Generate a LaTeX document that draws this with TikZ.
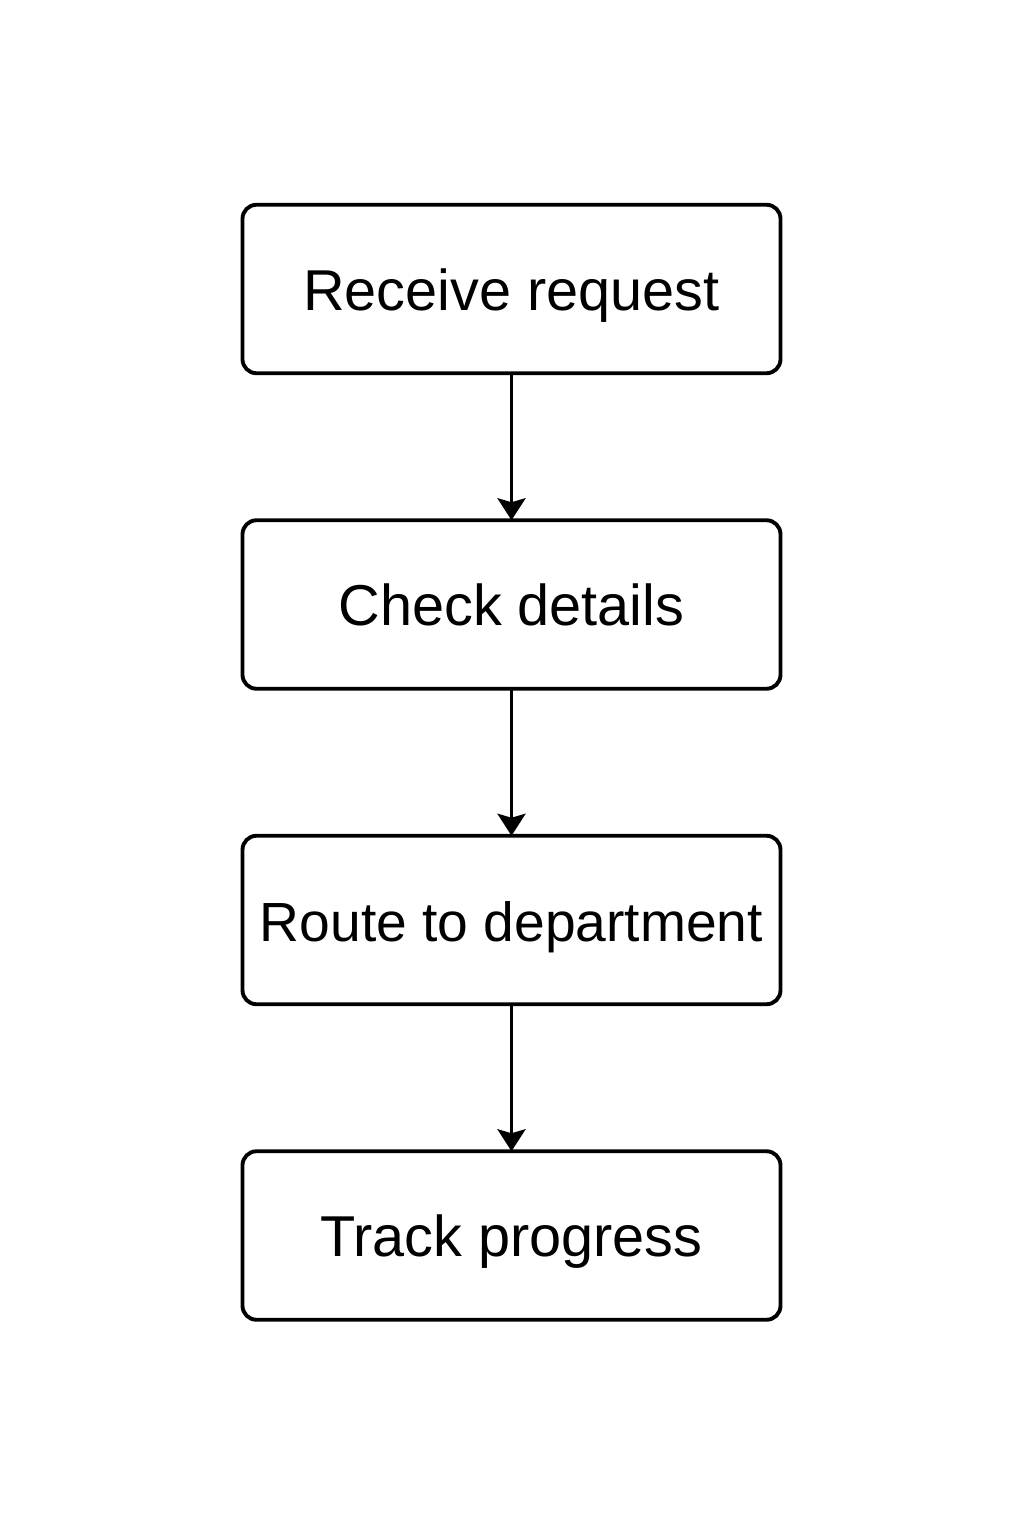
\documentclass[tikz,border=0pt]{standalone}
\usepackage{fontspec}
\setmainfont{Liberation Sans}
\usetikzlibrary{positioning,arrows.meta}

\tikzset{stepbox/.style = {draw, line width = 2.2pt, rounded corners = .28cm,
    minimum width = 10.76cm, minimum height = 3.37cm, inner sep = 1pt, outer sep = 0pt,
    text height = 24pt, text depth = 0pt, font = \fontsize{32.8}{39}\selectfont},
  flow/.style = {line width = 2pt, -{Stealth[length = .44cm, width = .56cm, inset = .08cm]}}}

\begin{document}
\begin{tikzpicture}[node distance = 2.94cm]
\useasboundingbox (0,0) rectangle (20.48,-30.72);
\node[stepbox] (receive) at (10.23,-5.78) {Receive request};
\node[stepbox, below = of receive] (check) {Check details};
\node[stepbox, below = of check, font = \fontsize{31.4}{38}\selectfont] (route) {Route to department};
\node[stepbox, below = of route] (track) {Track progress};
\draw[flow] (receive) - - (check);
\draw[flow] (check) - - (route);
\draw[flow] (route) - - (track);
\end{tikzpicture}
\end{document}
